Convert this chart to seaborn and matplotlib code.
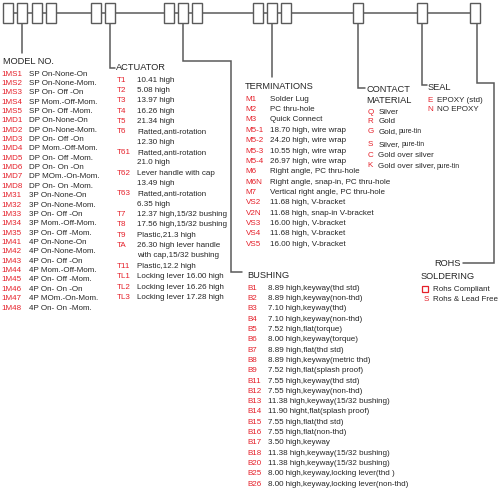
import matplotlib
matplotlib.use("Agg")
import matplotlib.pyplot as plt
from matplotlib.patches import Rectangle
import seaborn as sns

# ---------------- data ----------------
model_codes = ["1MS1", "1MS2", "1MS3", "1MS4", "1MS5", "1MD1", "1MD2", "1MD3", "1MD4",
               "1MD5", "1MD6", "1MD7", "1MD8", "1M31", "1M32", "1M33", "1M34", "1M35",
               "1M41", "1M42", "1M43", "1M44", "1M45", "1M46", "1M47", "1M48"]
model_desc = ["SP On-None-On", "SP On-None-Mom.", "SP On- Off -On", "SP Mom.-Off-Mom.",
              "SP On- Off -Mom.", "DP On-None-On", "DP On-None-Mom.", "DP On- Off -On",
              "DP Mom.-Off-Mom.", "DP On- Off -Mom.", "DP On- On -On", "DP MOm.-On-Mom.",
              "DP On- On -Mom.", "3P On-None-On", "3P On-None-Mom.", "3P On- Off -On",
              "3P Mom.-Off-Mom.", "3P On- Off -Mom.", "4P On-None-On", "4P On-None-Mom.",
              "4P On- Off -On", "4P Mom.-Off-Mom.", "4P On- Off -Mom.", "4P On- On -On",
              "4P MOm.-On-Mom.", "4P On- On -Mom."]

actuator_codes = ["T1", "T2", "T3", "T4", "T5", "T6", "", "T61", "", "T62", "", "T63", "",
                  "T7", "T8", "T9", "TA", "", "T11", "TL1", "TL2", "TL3"]
actuator_desc = ["10.41 high", "5.08 high", "13.97 high", "16.26 high", "21.34 high",
                 "Flatted,anti-rotation", "12.30 high", "Flatted,anti-rotation", "21.0 high",
                 "Lever handle with cap", "13.49 high", "Flatted,anti-rotation", "6.35 high",
                 "12.37 high,15/32 bushing", "17.56 high,15/32 bushing", "Plastic,21.3 high",
                 "26.30 high lever handle", "with cap,15/32 bushing", "Plastic,12.2 high",
                 "Locking lever 16.00 high", "Locking lever 16.26 high",
                 "Locking lever 17.28 high"]

term_codes = ["M1", "M2", "M3", "M5-1", "M5-2", "M5-3", "M5-4", "M6", "M6N", "M7",
              "VS2", "V2N", "VS3", "VS4", "VS5"]
term_desc = ["Solder Lug", "PC thru-hole", "Quick Connect", "18.70 high, wire wrap",
             "24.20 high, wire wrap", "10.55 high, wire wrap", "26.97 high, wire wrap",
             "Right angle, PC thru-hole", "Right angle, snap-in, PC thru-hole",
             "Vertical right angle, PC thru-hole", "11.68 high, V-bracket",
             "11.68 high, snap-in V-bracket", "16.00 high, V-bracket",
             "11.68 high, V-bracket", "16.00 high, V-bracket"]

bush_codes = ["B1", "B2", "B3", "B4", "B5", "B6", "B7", "B8", "B9", "B11", "B12", "B13",
              "B14", "B15", "B16", "B17", "B18", "B20", "B25", "B26"]
bush_desc = ["8.89 high,keyway(thd std)", "8.89 high,keyway(non-thd)",
             "7.10 high,keyway(thd)", "7.10 high,keyway(non-thd)", "7.52 high,flat(torque)",
             "8.00 high,keyway(torque)", "8.89 high,flat(thd std)",
             "8.89 high,keyway(metric thd)", "7.52 high,flat(splash proof)",
             "7.55 high,keyway(thd std)", "7.55 high,keyway(non-thd)",
             "11.38 high,keyway(15/32 bushing)", "11.90 hight,flat(splash proof)",
             "7.55 high,flat(thd std)", "7.55 high,flat(non-thd)", "3.50 high,keyway",
             "11.38 high,keyway(15/32 bushing)", "11.38 high,keyway(15/32 bushing)",
             "8.00 high,keyway,locking lever(thd )", "8.00 high,keyway,locking lever(non-thd)"]

contact_codes = ["Q", "R", "G", "S", "C", "K"]
contact_desc = ["Silver", "Gold", "Gold,", "Silver,", "Gold over silver", "Gold over silver,"]
contact_suffix = ["", "", "pure-tin", "pure-tin", "", "pure-tin"]

seal_codes = ["E", "N"]
seal_desc = ["EPOXY (std)", "NO EPOXY"]

rohs_codes = ["", "S"]
rohs_desc = ["Rohs Compliant", "Rohs & Lead Free"]

box_groups = [4, 2, 3, 3, 1, 1, 1]

# ---------------- style ----------------
sns.set_theme(style="white")
plt.rcParams["font.family"] = ["Liberation Sans", "DejaVu Sans"]

RED = "#e5202a"
TXT = "#262626"
LINE = "#5a5a5a"
FS = 5.75     # item font size
HFS = 6.7     # header font size

fig = plt.figure(figsize=(5.0, 4.9), dpi=100)
ax = fig.add_axes([0, 0, 1, 1])
ax.set_xlim(0, 500)
ax.set_ylim(490, 0)
ax.axis("off")

# ---------------- top boxes ----------------
group_starts = [3.3, 90.7, 164, 253, 353, 417, 470]
box_w, box_top, box_bot = 10, 2.7, 23.3
box_pitch = 14.1
main_y = 13.3
ax.plot([8, 475], [main_y, main_y], color=LINE, lw=1.1, zorder=1)
for start, n in zip(group_starts, box_groups):
    for i in range(n):
        ax.add_patch(Rectangle((start + i * box_pitch, box_top), box_w, box_bot - box_top,
                               facecolor="white", edgecolor=LINE, lw=1.0, zorder=2))

def path(xs, ys):
    ax.plot(xs, ys, color=LINE, lw=1.1, zorder=1, solid_joinstyle="miter")

# connectors
path([22, 22], [box_bot, 53])
path([110, 110, 115], [box_bot, 68.5, 68.5])
path([183.3, 183.3, 231, 231, 242], [box_bot, 61, 61, 272, 272])
path([272.3, 272.3], [box_bot, 77])
path([358.3, 358.3, 365], [box_bot, 88, 88])
path([422, 422, 427], [box_bot, 85, 85])
path([476.7, 476.7, 494, 494, 463], [box_bot, 83.3, 83.3, 263, 263])

def header(x, y, s, ha="left"):
    ax.text(x, y, s, fontsize=HFS, color=TXT, ha=ha, va="center")

def items(codes, descs, xc, xd, ys):
    for c, d, y in zip(codes, descs, ys):
        if c:
            ax.text(xc, y, c, fontsize=FS, color=RED, ha="left", va="center")
        ax.text(xd, y, d, fontsize=FS, color=TXT, ha="left", va="center")

# model
header(3, 61, "MODEL NO.")
items(model_codes, model_desc, 1.7, 29, [74 + 9.36 * i for i in range(len(model_codes))])

# actuator
header(116, 67, "ACTUATOR")
items(actuator_codes, actuator_desc, 116.7, 137.3,
      [80 + 10.35 * i for i in range(len(actuator_codes))])

# terminations
header(245, 86.7, "TERMINATIONS")
items(term_codes, term_desc, 245.7, 270, [99.3 + 10.34 * i for i in range(len(term_codes))])

# bushing
header(247.7, 275, "BUSHING")
items(bush_codes, bush_desc, 247.7, 267.7, [288.3 + 10.3 * i for i in range(len(bush_codes))])

# contact material
header(366.7, 89.3, "CONTACT")
header(366.7, 100.7, "MATERIAL")
contact_y = [112.3, 121.7, 131.3, 144.3, 155, 165.7]
items(contact_codes, contact_desc, 367.3, 378.3, contact_y)
fig.canvas.draw()
renderer = fig.canvas.get_renderer()
inv = ax.transData.inverted()
for d, suf, y in zip(contact_desc, contact_suffix, contact_y):
    if suf:
        t = ax.text(378.3, y, d, fontsize=FS, color="none", ha="left", va="center")
        bb = t.get_window_extent(renderer)
        xend = inv.transform((bb.x1, bb.y0))[0]
        t.remove()
        ax.text(xend + 1.2, y + 0.3, suf, fontsize=FS * 0.85, color=TXT, ha="left", va="center")

# seal
header(427.7, 87.3, "SEAL")
items(seal_codes, seal_desc, 427.7, 436.7, [100, 109.3])

# rohs
header(447, 263.3, "ROHS", ha="center")
header(448, 276, "SOLDERING", ha="center")
ax.add_patch(Rectangle((421.7, 286), 6.4, 6.0, facecolor="none", edgecolor=RED, lw=0.9))
items(rohs_codes, rohs_desc, 423.2, 433.3, [289, 299])

fig.savefig("out.png", dpi=100, facecolor="white")
